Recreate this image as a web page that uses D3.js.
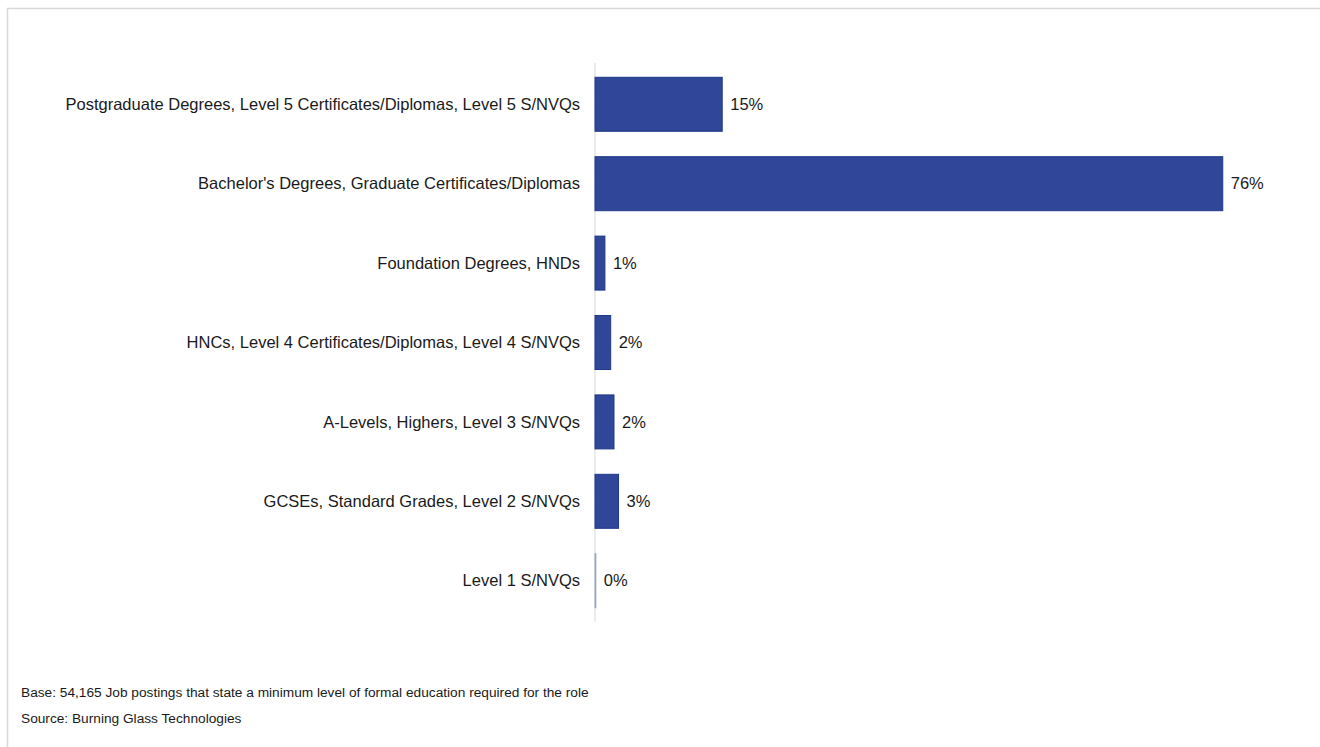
<!DOCTYPE html>
<html>
<head>
<meta charset="utf-8">
<script src="https://cdn.jsdelivr.net/npm/d3@7"></script>
<style>
  body { margin: 0; background: #fff; }
  text { font-family: "Liberation Sans", Arial, sans-serif; fill: #1a1a1a; }
</style>
</head>
<body>
<svg class="chart"></svg>
<script>
// education levels, top to bottom
const levels = [
  "Postgraduate Degrees, Level 5 Certificates/Diplomas, Level 5 S/NVQs",
  "Bachelor's Degrees, Graduate Certificates/Diplomas",
  "Foundation Degrees, HNDs",
  "HNCs, Level 4 Certificates/Diplomas, Level 4 S/NVQs",
  "A-Levels, Highers, Level 3 S/NVQs",
  "GCSEs, Standard Grades, Level 2 S/NVQs",
  "Level 1 S/NVQs"
];
// share of postings
const shares = [0.154, 0.760, 0.012, 0.019, 0.023, 0.0285, 0.001];

const notes = [
  "Base: 54,165 Job postings that state a minimum level of formal education required for the role",
  "Source: Burning Glass Technologies"
];

let data = levels.map((l, i) => ({level: l, share: shares[i]}));

let svg = d3.select('.chart')
            .attr('width', 1320)
            .attr('height', 747);

// light frame round the chart area
svg.append('rect')
   .attr('x', 7.5)
   .attr('y', 8.5)
   .attr('width', 1400)
   .attr('height', 800)
   .attr('fill', 'none')
   .attr('stroke', '#d9d9d9')
   .attr('stroke-width', 1.5);

let xScale = d3.scaleLinear()
               .domain([0, 1])
               .range([595, 595 + 826]);

let yScale = d3.scaleBand()
               .domain(levels)
               .range([63, 622])
               .paddingInner(0.32)
               .paddingOuter(0.18);

// category axis line
svg.append('line')
   .attr('x1', 595).attr('x2', 595)
   .attr('y1', 63).attr('y2', 622)
   .attr('stroke', '#d9d9d9')
   .attr('stroke-width', 1);

svg.selectAll('rect.bar')
   .data(data)
   .enter()
   .append('rect')
   .attr('class', 'bar')
   .attr('x', xScale(0))
   .attr('y', d => yScale(d.level))
   .attr('width', d => xScale(d.share) - xScale(0))
   .attr('height', yScale.bandwidth())
   .attr('fill', '#2f4699')
   .attr('stroke', d => d.share < 0.005 ? '#9aa6c8' : '#22388a')
   .attr('stroke-width', 1);

let pct = d3.format('.0%');

svg.selectAll('text.val')
   .data(data)
   .enter()
   .append('text')
   .attr('class', 'val')
   .attr('x', d => xScale(d.share) + 8)
   .attr('y', d => yScale(d.level) + yScale.bandwidth() / 2)
   .attr('dy', '0.35em')
   .style('font-size', '16.5px')
   .text(d => pct(d.share));

svg.selectAll('text.cat')
   .data(data)
   .enter()
   .append('text')
   .attr('class', 'cat')
   .attr('x', 580)
   .attr('y', d => yScale(d.level) + yScale.bandwidth() / 2)
   .attr('dy', '0.35em')
   .attr('text-anchor', 'end')
   .style('font-size', '16.5px')
   .text(d => d.level);

svg.selectAll('text.note')
   .data(notes)
   .enter()
   .append('text')
   .attr('class', 'note')
   .attr('x', 21)
   .attr('y', (d, i) => 697 + i * 26)
   .style('font-size', '13.7px')
   .text(d => d);
</script>
</body>
</html>
